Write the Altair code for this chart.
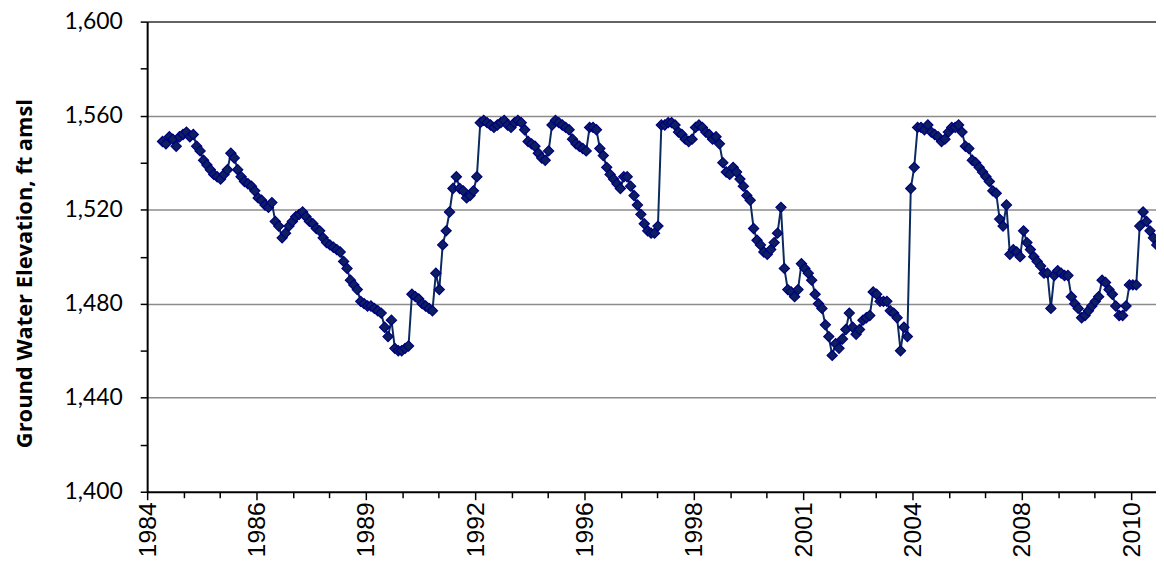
import json
import altair as alt
import pandas as pd

# ---------------- data ----------------
years = ["1984", "1986", "1989", "1992", "1996", "1998", "2001", "2004", "2008", "2010"]
per_label = 32          # categories between two labelled ticks
first_category = 4      # first categories of the axis hold no reading

seg_1984 = [1549, 1548, 1551, 1550, 1547, 1551, 1552, 1553, 1551, 1552, 1547, 1545, 1541, 1539,
            1537, 1535, 1534, 1533, 1535, 1537, 1544, 1542, 1537, 1534, 1532, 1531, 1530, 1528]
seg_1986 = [1525, 1524, 1522, 1521, 1523, 1515, 1513, 1508, 1510, 1513, 1515, 1517, 1518, 1519,
            1517, 1515, 1514, 1512, 1511, 1508, 1506, 1505, 1504, 1503, 1502, 1498, 1495, 1490,
            1488, 1486, 1481, 1480]
seg_1989 = [1479, 1479, 1478, 1477, 1476, 1470, 1466, 1473, 1461, 1460, 1460, 1461, 1462, 1484,
            1483, 1482, 1480, 1479, 1478, 1477, 1493, 1486, 1505, 1511, 1519, 1529, 1534, 1529,
            1528, 1525, 1526, 1528]
seg_1992 = [1534, 1557, 1558, 1557, 1556, 1555, 1556, 1557, 1558, 1556, 1555, 1557, 1558, 1557,
            1554, 1549, 1548, 1547, 1544, 1542, 1541, 1545, 1556, 1558, 1557, 1556, 1555, 1554,
            1550, 1548, 1547, 1546]
seg_1996 = [1545, 1555, 1555, 1554, 1546, 1543, 1538, 1535, 1533, 1531, 1529, 1534, 1534, 1530,
            1526, 1522, 1518, 1514, 1511, 1510, 1510, 1513, 1556, 1556, 1557, 1557, 1556, 1553,
            1552, 1550, 1549, 1550]
seg_1998 = [1555, 1556, 1555, 1553, 1552, 1550, 1551, 1548, 1540, 1536, 1535, 1538, 1536, 1533,
            1530, 1526, 1524, 1512, 1507, 1505, 1502, 1501, 1503, 1506, 1510, 1521, 1495, 1486,
            1485, 1483, 1486, 1497]
seg_2001 = [1495, 1493, 1490, 1484, 1480, 1478, 1471, 1466, 1458, 1463, 1461, 1465, 1469, 1476,
            1470, 1467, 1469, 1473, 1474, 1475, 1485, 1484, 1481, 1481, 1481, 1477, 1476, 1474,
            1460, 1470, 1466, 1529]
seg_2004 = [1538, 1555, 1555, 1554, 1556, 1553, 1552, 1551, 1549, 1550, 1553, 1555, 1555, 1556,
            1553, 1547, 1546, 1541, 1540, 1538, 1536, 1534, 1532, 1528, 1527, 1516, 1513, 1522,
            1501, 1503, 1502, 1500]
seg_2008 = [1511, 1506, 1503, 1500, 1498, 1496, 1493, 1493, 1478, 1492, 1494, 1493, 1492, 1492,
            1483, 1480, 1478, 1474, 1475, 1477, 1479, 1481, 1483, 1490, 1489, 1486, 1484, 1479,
            1475, 1475, 1479, 1488]
seg_2010 = [1488, 1488, 1513, 1519, 1515, 1511, 1508, 1505]

segments = [seg_1984, seg_1986, seg_1989, seg_1992, seg_1996,
            seg_1998, seg_2001, seg_2004, seg_2008, seg_2010]

rows = []
for k, seg in enumerate(segments):
    start = k * per_label + (first_category if k == 0 else 0)
    for j, v in enumerate(seg):
        rows.append({"cat": start + j + 0.5, "elev": v})
df = pd.DataFrame(rows)

# ---------------- layout ----------------
plot_w = 1015
plot_h = 473
label_px = 110                      # pixels between labelled ticks
x_max = plot_w * per_label / label_px

x_ticks = [k * per_label / 3 for k in range(int(x_max * 3 / per_label) + 1)]
is_major_x = f"abs(datum.value/{per_label} - round(datum.value/{per_label})) < 0.001"
x_label_expr = f"{is_major_x} ? {json.dumps(years)}[round(datum.value/{per_label})] : ''"

y_ticks = list(range(1400, 1601, 20))

x_enc = alt.X(
    "cat:Q",
    scale=alt.Scale(domain=[0, x_max], nice=False, zero=False),
    axis=alt.Axis(
        values=x_ticks,
        labelExpr=x_label_expr,
        title=None,
        grid=False,
        labelAngle=270,
        labelFont="Liberation Sans",
        labelFontSize=25,
        labelColor="black",
        labelPadding=2,
        labelOverlap=False,
        labelBound=False,
        labelFlush=False,
        domainColor="black",
        domainWidth=2,
        tickColor="black",
        tickWidth=1.5,
        tickSize={"condition": {"test": is_major_x, "value": 8}, "value": 6},
    ),
)

y_enc = alt.Y(
    "elev:Q",
    scale=alt.Scale(domain=[1400, 1600], nice=False, zero=False),
    axis=alt.Axis(
        values=y_ticks,
        labelExpr="datum.value % 40 === 0 ? format(datum.value, ',') : ''",
        grid=True,
        gridColor={"condition": {"test": "datum.value === 1600", "value": "#303030"},
                   "value": "#8c8c8c"},
        gridOpacity={"condition": {"test": "datum.value % 40 === 0 && datum.value > 1400",
                                   "value": 1}, "value": 0},
        gridWidth=1.5,
        labelFont="Lato",
        labelFontSize=23,
        labelColor="black",
        labelPadding=18,
        domainColor="black",
        domainWidth=2,
        tickColor="black",
        tickWidth=1.5,
        tickSize=7,
        title="Ground Water Elevation, ft amsl",
        titleFont="Open Sans",
        titleFontSize=22,
        titleFontWeight="bold",
        titleColor="black",
        titleAngle=270,
        titleX=-123,
        titleY=253,
        titleAlign="center",
        titleBaseline="middle",
    ),
)

line = alt.Chart(df).mark_line(color="#0b2a5e", strokeWidth=2, clip=True).encode(x=x_enc, y=y_enc)
pts = alt.Chart(df).mark_point(
    shape="diamond", filled=True, size=105, fill="#0c1f5e", stroke="#000080",
    strokeWidth=1.2, opacity=1, clip=True
).encode(x=x_enc, y=y_enc)

chart = alt.layer(line, pts).properties(
    width=plot_w,
    height=plot_h,
    padding={"left": 140, "top": 12, "right": 0, "bottom": 70},
    autosize=alt.AutoSizeParams(type="none"),
    background="white",
).configure_view(stroke=None)

chart.save("out.html", embed_options={"renderer": "svg", "actions": False})
